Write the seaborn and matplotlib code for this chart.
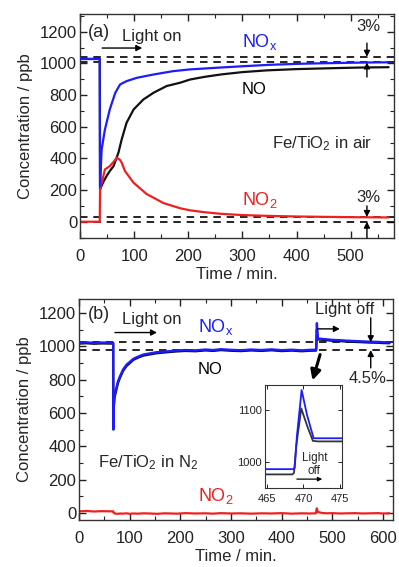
import matplotlib
matplotlib.use("Agg")
import matplotlib.pyplot as plt
import seaborn as sns
import pandas as pd

# ---------------- data panel (a) : Fe/TiO2 in air ----------------
t_a_nox = [0, 20, 36.5, 37, 40, 46, 55, 65, 74, 86, 105, 136, 172, 203, 250, 300, 350, 400, 450, 500, 540, 570]
nox_a = [1028, 1028, 1028, 225, 457, 582, 709, 813, 867, 888, 909, 930, 951, 962, 972, 982, 991, 997, 1001, 1004, 1006, 1007]

t_a_no = [0, 20, 36.5, 37, 43, 49, 55, 62, 71, 77, 86, 99, 117, 136, 160, 185, 203, 230, 260, 300, 345, 400, 468, 520, 570]
no_a = [1028, 1028, 1028, 204, 250, 288, 320, 351, 436, 520, 625, 709, 772, 815, 857, 878, 898, 915, 930, 945, 956, 964, 970, 974, 976]

t_a_no2 = [0, 20, 36.5, 37, 46, 55, 62, 68, 74, 77, 83, 99, 123, 154, 185, 203, 230, 260, 300, 345, 400, 468, 520, 570]
no2_a = [0, 0, 0, 200, 330, 351, 378, 404, 390, 373, 320, 246, 175, 118, 85, 72, 60, 50, 42, 37, 33, 30, 28, 27]

# ---------------- data panel (b) : Fe/TiO2 in N2 ----------------
t_b = [0, 15, 30, 45, 60, 67.5, 67.8, 68.5, 70, 73, 77, 81, 87, 94, 100, 107, 117, 127, 140, 153,
       170, 193, 210, 230, 250, 265, 280, 300, 320, 340, 360, 380, 400, 420, 440, 455, 468, 468.5,
       469.7, 471.5, 480, 490, 500, 515, 530, 545, 560, 575, 590, 600, 613]
nox_b = [1021, 1023, 1020, 1022, 1021, 1021, 500, 640, 700, 740, 790, 820, 860, 890, 905, 924, 938, 950, 957, 964,
         968, 974, 977, 975, 980, 977, 982, 978, 976, 980, 977, 981, 976, 979, 975, 978, 979, 1000,
         1138, 1046, 1044, 1041, 1038, 1036, 1033, 1031, 1029, 1027, 1026, 1024, 1023]
no_b = [1016, 1018, 1015, 1017, 1016, 1016, 505, 630, 690, 730, 780, 812, 852, 882, 898, 918, 932, 944, 951, 958,
        963, 969, 972, 970, 975, 972, 977, 973, 971, 975, 972, 976, 971, 974, 970, 973, 974, 990,
        1100, 1041, 1039, 1036, 1033, 1031, 1028, 1026, 1024, 1022, 1021, 1019, 1018]
no2_b = [10, 12, 9, 11, 10, 10, 8, 2, -2, -4, -5, -3, -4, -2, -5, -3, -4, -2, -3, -5,
         -2, -4, -1, -3, -2, -4, -1, -3, -2, -4, -2, -3, -1, -4, -2, -3, -2, 15,
         28, 6, 0, -2, -1, -3, -2, -1, -3, -2, -1, -3, -2]

# ---------------- inset data ----------------
t_in_nox = [464.7, 468.6, 468.8, 469.1, 469.75, 470.5, 471.4, 472, 475.3]
nox_in = [987, 987, 990, 1050, 1138, 1090, 1046, 1046, 1046]
t_in_no = [464.7, 468.5, 468.7, 469.0, 469.7, 470.5, 471.3, 472, 475.3]
no_in = [977, 977, 980, 1030, 1103, 1070, 1041, 1040, 1040]

BLUE = "#1c1cff"
RED = "#f02020"
BLACK = "#111111"

sns.set_style("ticks")
plt.rcParams["font.family"] = ["Liberation Sans", "DejaVu Sans"]
plt.rcParams["mathtext.fontset"] = "custom"
plt.rcParams["mathtext.rm"] = "Liberation Sans"
plt.rcParams["mathtext.it"] = "Liberation Sans"
plt.rcParams["axes.linewidth"] = 1.0
plt.rcParams["axes.edgecolor"] = "#333333"

fig = plt.figure(figsize=(3.99, 5.67), dpi=100)
ax_a = fig.add_axes([0.2005, 0.5802, 0.787, 0.3951])
ax_b = fig.add_axes([0.198, 0.0829, 0.787, 0.3906])
ax_in = fig.add_axes([0.664, 0.1393, 0.193, 0.182])

FS = 12


def line(ax, t, v, color, lw=1.6, z=2):
    df = pd.DataFrame({"t": t, "v": v})
    sns.lineplot(data=df, x="t", y="v", ax=ax, color=color, lw=lw,
                 estimator=None, sort=False, zorder=z)


def style(ax, xmax, ymin, ymax, xmaj, xmin_, ymaj, ymin_, fs=FS):
    ax.set_xlim(0, xmax)
    ax.set_ylim(ymin, ymax)
    ax.xaxis.set_major_locator(plt.MultipleLocator(xmaj))
    ax.xaxis.set_minor_locator(plt.MultipleLocator(xmin_))
    ax.yaxis.set_major_locator(plt.MultipleLocator(ymaj))
    ax.yaxis.set_minor_locator(plt.MultipleLocator(ymin_))
    ax.tick_params(which="both", direction="in", top=True, right=True, labelsize=fs, colors="#222222")
    ax.tick_params(which="major", length=5, width=1)
    ax.tick_params(which="minor", length=3, width=0.8)
    ax.tick_params(axis="x", which="major", pad=8)
    ax.tick_params(axis="y", which="major", pad=2)


def arrow(ax, xy_from, xy_to, lw=1.0, hw=0.18, hl=0.35):
    ax.annotate("", xy=xy_to, xytext=xy_from,
                arrowprops=dict(arrowstyle=f"-|>,head_width={hw},head_length={hl}",
                                color="black", lw=lw, shrinkA=0, shrinkB=0))


# ---------------- panel (a) ----------------
line(ax_a, t_a_no, no_a, BLACK)
line(ax_a, t_a_no2, no2_a, RED)
line(ax_a, t_a_nox, nox_a, BLUE, z=3)
for yv in [1042, 1006, 30, 0]:
    ax_a.axhline(yv, color="black", lw=1.2, ls=(0, (4.5, 3.5)), zorder=1)
style(ax_a, 580, -103, 1312, 100, 50, 200, 100)
ax_a.set_xlabel("Time / min.", fontsize=FS, labelpad=2)
ax_a.set_ylabel("Concentration / ppb", fontsize=FS, labelpad=5)
ax_a.text(15, 1195, "(a)", fontsize=13, va="center")
ax_a.text(133, 1167, "Light on", fontsize=FS, ha="center", va="center")
arrow(ax_a, (41, 1097), (115, 1097))
ax_a.text(299, 1135, r"NO$_\mathrm{x}$", fontsize=13, color=BLUE, va="center")
ax_a.text(299, 832, "NO", fontsize=FS, color="black", va="center")
ax_a.text(355, 496, r"Fe/TiO$_\mathrm{2}$ in air", fontsize=FS, va="center")
ax_a.text(299, 137, r"NO$_\mathrm{2}$", fontsize=13, color=RED, va="center")
ax_a.text(533, 1231, "3%", fontsize=FS, ha="center", va="center")
ax_a.text(533, 156, "3%", fontsize=FS, ha="center", va="center")
arrow(ax_a, (530, 1128), (530, 1042))
arrow(ax_a, (530, 914), (530, 1006))
arrow(ax_a, (530, 100), (530, 30))
arrow(ax_a, (530, -103), (530, 0))

# ---------------- panel (b) ----------------
line(ax_b, t_b, no_b, BLACK, lw=1.7)
line(ax_b, t_b, no2_b, RED)
line(ax_b, t_b, nox_b, BLUE, lw=1.7, z=3)
for yv in [1024, 977]:
    ax_b.axhline(yv, color="black", lw=1.2, ls=(0, (4.5, 3.5)), zorder=1)
style(ax_b, 620, -42, 1286, 100, 50, 200, 100)
ax_b.set_xlabel("Time / min.", fontsize=FS, labelpad=2)
ax_b.set_ylabel("Concentration / ppb", fontsize=FS, labelpad=5)
ax_b.text(18, 1188, "(b)", fontsize=13, va="center")
ax_b.text(144, 1160, "Light on", fontsize=FS, ha="center", va="center")
arrow(ax_b, (71, 1082), (154, 1082))
ax_b.text(235, 1118, r"NO$_\mathrm{x}$", fontsize=13, color=BLUE, va="center")
ax_b.text(235, 860, "NO", fontsize=FS, color="black", va="center")
ax_b.text(38, 300, r"Fe/TiO$_\mathrm{2}$ in N$_\mathrm{2}$", fontsize=FS, va="center")
ax_b.text(235, 100, r"NO$_\mathrm{2}$", fontsize=13, color=RED, va="center")
ax_b.text(525, 1218, "Light off", fontsize=FS, ha="center", va="center")
arrow(ax_b, (471, 1104), (515, 1104))
arrow(ax_b, (576, 1170), (576, 1024))
arrow(ax_b, (576, 870), (576, 977))
ax_b.text(570, 804, "4.5%", fontsize=FS, ha="center", va="center")
arrow(ax_b, (476, 950), (461, 795), lw=2.2, hw=0.3, hl=0.6)

# ---------------- inset ----------------
line(ax_in, t_in_no, no_in, "#333333", lw=1.3)
line(ax_in, t_in_nox, nox_in, BLUE, lw=1.3, z=3)
ax_in.set_xlim(464.7, 475.3)
ax_in.set_ylim(951, 1148)
ax_in.set_xticks([465, 470, 475])
ax_in.set_yticks([1000, 1100])
ax_in.tick_params(which="both", direction="in", top=True, right=True, labelsize=8,
                  length=3, width=0.7, pad=2, colors="#222222")
ax_in.tick_params(axis="x", pad=4)
for s in ax_in.spines.values():
    s.set_linewidth(0.8)
ax_in.set_xlabel("")
ax_in.set_ylabel("")
ax_in.text(471.5, 1008, "Light", fontsize=8.5, ha="center", va="center")
ax_in.text(471.5, 984, "off", fontsize=8.5, ha="center", va="center")
arrow(ax_in, (469.1, 968), (472.6, 968), lw=0.9, hw=0.12, hl=0.25)

fig.savefig("out.png", dpi=100)
